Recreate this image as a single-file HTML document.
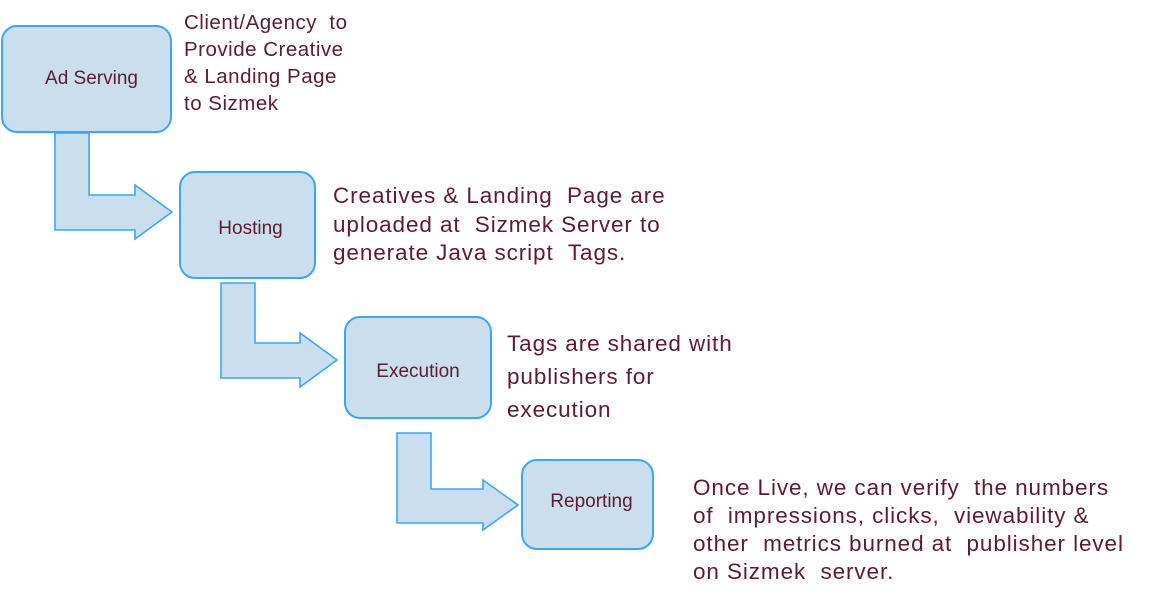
<!DOCTYPE html>
<html><head><style>
body{margin:0;width:1151px;height:600px;background:#fff;position:relative;overflow:hidden;font-family:"Liberation Sans",sans-serif;color:#5e1b33}
.b{position:absolute;background:#cadeed;border:2px solid #3aa8f0;border-radius:16px;box-sizing:border-box;display:flex;align-items:center;justify-content:center;font-size:19px}
.t{position:absolute;font-size:22.5px;letter-spacing:0.9px;line-height:27.5px;white-space:nowrap}
.c{position:absolute;font-size:20.5px;letter-spacing:0.5px;line-height:27px;white-space:nowrap}
</style></head><body>
<svg width="1151" height="600" style="position:absolute;left:0;top:0">
<g fill="#cadeed" stroke="#3aa8f0" stroke-width="1.6">
<path d="M55,133 L89,133 L89,195 L135,195 L135,185 L172,212 L135,239 L135,230 L55,230 Z"/>
<path d="M221,283 L255,283 L255,343 L300,343 L300,333 L337,360 L300,387 L300,378 L221,378 Z"/>
<path d="M397,433 L431,433 L431,489 L483,489 L483,480 L518,505 L483,530 L483,523 L397,523 Z"/>
</g></svg>
<div class="b" style="left:1px;top:25px;width:171px;height:108px;padding-left:10px">Ad Serving</div>
<div class="b" style="left:179px;top:171px;width:137px;height:108px;padding-top:8px;padding-left:6px">Hosting</div>
<div class="b" style="left:344px;top:316px;width:148px;height:103px;padding-top:8px">Execution</div>
<div class="b" style="left:521px;top:459px;width:133px;height:91px;padding-bottom:6px;padding-left:8px">Reporting</div>
<div class="c" style="left:184px;top:9px">Client/Agency &nbsp;to<br>Provide Creative<br>&amp; Landing Page<br>to Sizmek</div>
<div class="t" style="left:333px;top:182px;line-height:28.5px">Creatives &amp; Landing &nbsp;Page are<br>uploaded at &nbsp;Sizmek Server to<br>generate Java script &nbsp;Tags.</div>
<div class="t" style="left:507px;top:327px;line-height:33px">Tags are shared with<br>publishers for<br>execution</div>
<div class="t" style="left:693px;top:474px;line-height:28px">Once Live, we can verify &nbsp;the numbers<br>of &nbsp;impressions, clicks, &nbsp;viewability &amp;<br>other &nbsp;metrics burned at &nbsp;publisher level<br>on Sizmek &nbsp;server.</div>
</body></html>
